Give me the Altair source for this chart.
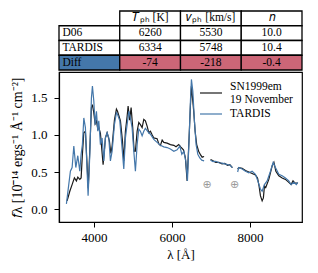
import altair as alt
import pandas as pd

# ---------------- spectra (wavelength in Angstrom, flux in 1e-14 units) -------------
obs_wl_1 = [3308, 3377, 3436, 3495, 3546, 3582, 3633, 3667, 3700, 3736, 3777, 3810, 3850,
            3890, 3931, 3957, 3992, 4026, 4060, 4095, 4120, 4162, 4231, 4290, 4333, 4392,
            4430, 4462, 4521, 4572, 4600, 4675, 4727, 4761, 4803, 4846, 4872, 4910, 4949,
            4990, 5026, 5059, 5103, 5146, 5187, 5231, 5274, 5315, 5359, 5402, 5444, 5490,
            5531, 5615, 5660, 5700, 5745, 5787, 5872, 5956, 6044, 6100, 6170, 6220, 6290,
            6340, 6385, 6430, 6470, 6495, 6554, 6590, 6630, 6680, 6730, 6770, 6820]
obs_fl_1 = [0.11, 0.24, 0.33, 0.42, 0.38, 0.43, 0.40, 0.42, 0.74, 1.03, 1.05, 0.70, 0.28,
            0.80, 1.37, 1.41, 1.30, 1.15, 1.19, 1.08, 1.10, 1.02, 0.60, 0.96, 1.03, 0.92,
            0.75, 0.85, 1.20, 1.35, 1.32, 1.19, 0.92, 0.65, 1.05, 1.25, 1.39, 1.20, 1.37,
            1.10, 0.78, 0.78, 1.05, 1.17, 1.14, 1.10, 1.21, 1.19, 1.12, 1.03, 1.05, 1.00,
            0.96, 0.95, 0.88, 0.86, 0.93, 0.90, 0.89, 0.87, 0.86, 0.84, 0.87, 0.84, 0.80,
            0.69, 0.38, 0.90, 1.40, 1.66, 1.32, 1.05, 0.87, 0.78, 0.73, 0.70, 0.71]
obs_wl_2 = [6985, 7050, 7120, 7200, 7280, 7350, 7420, 7480, 7546]
obs_fl_2 = [0.67, 0.65, 0.63, 0.63, 0.61, 0.615, 0.59, 0.60, 0.56]
obs_wl_3 = [7680, 7709, 7795, 7880, 7967, 8051, 8136, 8190, 8230, 8264, 8308, 8340, 8367,
            8400, 8479, 8564, 8610, 8660, 8736, 8821, 8905, 8992, 9051, 9100, 9150, 9220]
obs_fl_3 = [0.54, 0.56, 0.55, 0.52, 0.50, 0.48, 0.46, 0.42, 0.31, 0.18, 0.11, 0.15, 0.31,
            0.29, 0.40, 0.58, 0.63, 0.51, 0.45, 0.42, 0.40, 0.36, 0.33, 0.38, 0.35, 0.35]

tar_wl_1 = [3290, 3392, 3436, 3480, 3531, 3582, 3633, 3667, 3700, 3736, 3777, 3803, 3846,
            3890, 3931, 3957, 3992, 4026, 4060, 4095, 4120, 4162, 4205, 4249, 4290, 4333,
            4377, 4418, 4462, 4521, 4572, 4600, 4659, 4710, 4761, 4803, 4846, 4890, 4931,
            4974, 5018, 5059, 5103, 5146, 5187, 5231, 5274, 5315, 5359, 5402, 5444, 5531,
            5615, 5700, 5787, 5872, 5956, 6044, 6128, 6197, 6249, 6300, 6351, 6393, 6436,
            6470, 6495, 6531, 6572, 6615, 6659, 6710, 6760, 6820]
tar_fl_1 = [0.07, 0.51, 0.56, 0.85, 0.56, 0.72, 0.51, 0.74, 0.87, 1.23, 1.10, 0.74, 0.18,
            0.74, 1.50, 1.66, 1.46, 1.14, 1.32, 1.05, 1.19, 0.87, 0.96, 0.65, 0.96, 1.03,
            0.96, 0.65, 0.78, 1.14, 1.30, 1.28, 1.19, 0.87, 0.54, 0.96, 1.14, 1.32, 1.23,
            1.10, 0.78, 0.51, 0.87, 1.08, 1.05, 0.99, 1.05, 1.09, 1.06, 1.03, 1.01, 0.94,
            0.90, 0.86, 0.84, 0.83, 0.81, 0.78, 0.80, 0.85, 0.74, 0.78, 0.65, 0.38, 0.96,
            1.46, 1.75, 1.59, 1.19, 0.87, 0.74, 0.69, 0.66, 0.65]
tar_wl_2 = [6985, 7050, 7120, 7200, 7280, 7350, 7420, 7480, 7546]
tar_fl_2 = [0.66, 0.64, 0.645, 0.625, 0.62, 0.61, 0.60, 0.595, 0.56]
tar_wl_3 = [7680, 7709, 7795, 7880, 7967, 8051, 8136, 8197, 8264, 8308, 8367, 8436, 8521,
            8590, 8649, 8736, 8821, 8905, 8992, 9051, 9120, 9185, 9220]
tar_fl_3 = [0.50, 0.56, 0.54, 0.51, 0.49, 0.51, 0.47, 0.38, 0.27, 0.24, 0.33, 0.38, 0.51,
            0.63, 0.56, 0.47, 0.45, 0.42, 0.38, 0.33, 0.36, 0.33, 0.36]

series_names = ["SN1999em 19 November", "TARDIS"]
series_colors = ["#1a1a1a", "#4477AA"]

telluric_wl = [6900, 7600]
telluric_fl = [0.33, 0.33]

# ---------------- table -------------
table_header = ["", "𝑇ₚₕ [K]", "𝑣ₚₕ [km/s]", "𝑛"]
table_d06 = ["D06", "6260", "5530", "10.0"]
table_tardis = ["TARDIS", "6334", "5748", "10.4"]
table_diff = ["Diff", "-74", "-218", "-0.4"]
diff_colors = ["#4477AA", "#CC6677", "#CC6677", "#CC6677"]

FONT = "Liberation Serif, Times New Roman, serif"

# build line table
rows = []
for name, segs in [(series_names[0], [(obs_wl_1, obs_fl_1), (obs_wl_2, obs_fl_2), (obs_wl_3, obs_fl_3)]),
                   (series_names[1], [(tar_wl_1, tar_fl_1), (tar_wl_2, tar_fl_2), (tar_wl_3, tar_fl_3)])]:
    for si, (wl, fl) in enumerate(segs):
        for w, f in zip(wl, fl):
            rows.append({"series": name, "seg": f"{name}-{si}", "wl": w, "flux": f})
df = pd.DataFrame(rows)

tell_df = pd.DataFrame({"wl": telluric_wl, "flux": telluric_fl})

x_scale = alt.Scale(domain=[3100, 9330], nice=False, zero=False)
y_scale = alt.Scale(domain=[-0.175, 1.85], nice=False, zero=False)

lines = alt.Chart(df).mark_line(strokeWidth=1.2, clip=True).encode(
    x=alt.X("wl:Q", scale=x_scale,
            axis=alt.Axis(values=[4000, 6000, 8000], format="d", title="λ [Å]")),
    y=alt.Y("flux:Q", scale=y_scale,
            axis=alt.Axis(values=[0, 0.5, 1.0, 1.5], format=".1f",
                          title="𝑓λ [10⁻¹⁴ ergs⁻¹ Å⁻¹ cm⁻²]", titleFontSize=14)),
    color=alt.Color("series:N", scale=alt.Scale(domain=series_names, range=series_colors),
                    legend=None),
    detail="seg:N",
    order="wl:Q",
)

tell = alt.Chart(tell_df).mark_text(text="⊕", color="#9a9a9a", fontSize=11,
                                    font="DejaVu Sans").encode(
    x=alt.X("wl:Q", scale=x_scale), y=alt.Y("flux:Q", scale=y_scale))

leg_df = pd.DataFrame({"series": series_names})
leg_line1 = alt.Chart(leg_df.iloc[[0]]).mark_rule(color=series_colors[0], strokeWidth=1.2).encode(
    x=alt.value(141), x2=alt.value(163), y=alt.value(21))
leg_line2 = alt.Chart(leg_df.iloc[[1]]).mark_rule(color=series_colors[1], strokeWidth=1.2).encode(
    x=alt.value(141), x2=alt.value(163), y=alt.value(42))
leg_txt1 = alt.Chart(leg_df.iloc[[0]]).mark_text(
    align="left", baseline="middle", font=FONT, fontSize=11.5, lineHeight=12.5, color="black").encode(
    x=alt.value(171), y=alt.value(15), text=alt.value(["SN1999em", "19 November"]))
leg_txt2 = alt.Chart(leg_df.iloc[[1]]).mark_text(
    align="left", baseline="middle", font=FONT, fontSize=11.5, color="black").encode(
    x=alt.value(171), y=alt.value(42), text=alt.value("TARDIS"))

plot = alt.layer(lines, tell, leg_line1, leg_line2, leg_txt1, leg_txt2).properties(
    width=243, height=150)

# table chart
cells = []
for r, (vals) in enumerate([table_header, table_d06, table_tardis, table_diff]):
    for c, v in enumerate(vals):
        if r == 0 and c == 0:
            continue
        fill = diff_colors[c] if r == 3 else "#ffffff"
        cells.append({"row": r, "col": c, "text": v, "fill": fill})
cells_df = pd.DataFrame(cells)

bx = alt.X("col:O", scale=alt.Scale(domain=[0, 1, 2, 3], paddingInner=0, paddingOuter=0), axis=None)
by = alt.Y("row:O", scale=alt.Scale(domain=[0, 1, 2, 3], paddingInner=0, paddingOuter=0), axis=None)

t_rect = alt.Chart(cells_df).mark_rect(stroke="black", strokeWidth=1.3).encode(
    x=bx, y=by, fill=alt.Fill("fill:N", scale=None))
t_text_c = alt.Chart(cells_df).transform_filter("datum.col > 0").mark_text(
    font=FONT, fontSize=11.5, color="black").encode(x=bx, y=by, text="text:N")
t_text_l = alt.Chart(cells_df).transform_filter("datum.col == 0").mark_text(
    font=FONT, fontSize=11.5, color="black", align="left", dx=-27).encode(x=bx, y=by, text="text:N")

table = alt.layer(t_rect, t_text_c, t_text_l).properties(
    width=243, height=59, view=alt.ViewBackground(strokeOpacity=0))

chart = alt.vconcat(table, plot, spacing=0).properties(
    padding={"left": 2, "top": 2, "right": 5, "bottom": 5}
).configure_view(stroke="black", strokeWidth=1.2).configure_axis(
    labelFont=FONT, titleFont=FONT, labelFontSize=13, titleFontSize=13,
    titleFontWeight="normal", labelColor="black", titleColor="black",
    tickColor="black", domainColor="black", grid=False, tickSize=5,
    labelPadding=4, domainWidth=1.2, tickWidth=1.0
).configure_axisY(labelPadding=7, titlePadding=6)

chart.save("out.html", embed_options={"renderer": "svg", "actions": False})
